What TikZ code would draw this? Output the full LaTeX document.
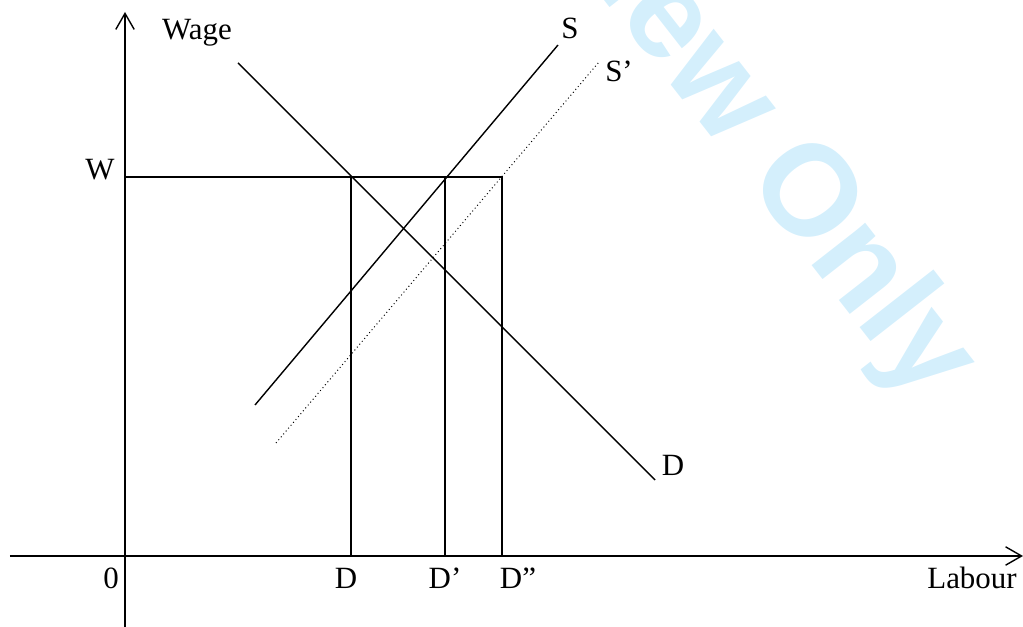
\documentclass[tikz,border=0pt]{standalone}
\usepackage{fontspec}
\setmainfont{Liberation Serif}
\newfontfamily\wmfont{Liberation Sans}
\usetikzlibrary{arrows.meta}
\definecolor{wmblue}{RGB}{212,239,252}
\begin{document}
\begin{tikzpicture}[font=\fontsize{22}{26}\selectfont, inner sep=1pt,
  axisline/.style={line width=1pt,-{Straight Barb[length=4mm,width=4.6mm]}},
  curveline/.style={line width=1pt},
  guideline/.style={line width=1pt},
  wmark/.style={text=wmblue,font=\wmfont\bfseries\fontsize{92}{92}\selectfont}]
  \def\wy{9.475}
  \def\xD{5.65}\def\xDa{8.0}\def\xDb{9.425}\def\ly{-0.55}
  \useasboundingbox (-3.125,-1.775) rectangle (22.45,13.9);
  % watermark behind everything
  \begin{scope}
    \clip (-3.125,-1.775) rectangle (22.45,13.9);
    \node[wmark,rotate=-52] (wm) at (14.65,11.85) {Review Only};
  \end{scope}
  % axes
  \coordinate (ybot) at (0,-1.775);
  \coordinate (ytop) at (0,13.6);
  \coordinate (xl) at (-2.875,0);
  \coordinate (xr) at (22.45,0);
  \draw[axisline] (ybot) -- (ytop);
  \draw[axisline] (xl) -- (xr);
  \node (lwage) at (1.8,13.075) {Wage};
  \node (llab) at (21.175,\ly) {Labour};
  \node (lzero) at (-0.35,\ly) {0};
  % wage level and the three quantities
  \coordinate (w) at (0,\wy);
  \coordinate (wD) at (\xD,\wy);   \coordinate (qD) at (\xD,0);
  \coordinate (wDa) at (\xDa,\wy); \coordinate (qDa) at (\xDa,0);
  \coordinate (wDb) at (\xDb,\wy); \coordinate (qDb) at (\xDb,0);
  \draw[guideline] (w) -- (wDb) -- (qDb);
  \draw[guideline] (wD) -- (qD);
  \draw[guideline] (wDa) -- (qDa);
  \node (lw) at (-0.625,9.65) {W};
  \node (lqD) at (5.525,\ly) {D};
  \node (lqDa) at (8.0,\ly) {D’};
  \node (lqDb) at (9.825,\ly) {D”};
  % demand
  \coordinate (d1) at (2.825,12.325); \coordinate (d2) at (13.25,1.9);
  \draw[curveline] (d1) -- (d2);
  \node (ld) at (13.7,2.275) {D};
  % supply, before and after
  \coordinate (s1) at (3.25,3.775); \coordinate (s2) at (10.825,12.775);
  \draw[curveline] (s1) -- (s2);
  \node (ls) at (11.125,13.2) {S};
  \coordinate (t1) at (3.775,2.825); \coordinate (t2) at (11.85,12.35);
  \draw[curveline,line width=0.7pt,dotted] (t1) -- (t2);
  \node (lt) at (12.35,12.125) {S’};
\end{tikzpicture}
\end{document}
